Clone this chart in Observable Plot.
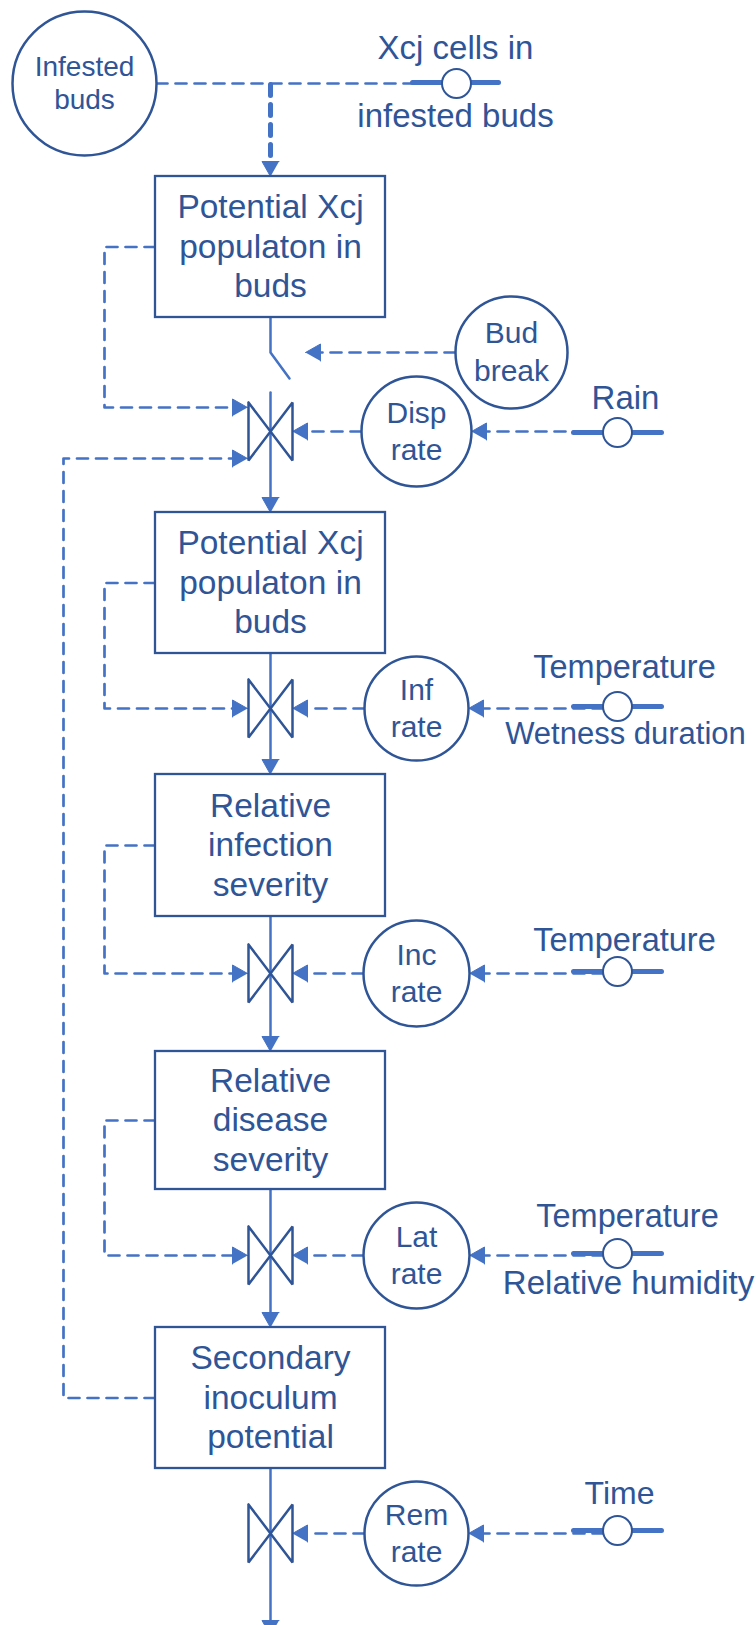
<!DOCTYPE html>
<html>
<head>
<meta charset="utf-8">
<script src="https://cdn.jsdelivr.net/npm/d3@7"></script>
<script src="https://cdn.jsdelivr.net/npm/@observablehq/plot@0.6"></script>
<style>
  html, body { margin: 0; padding: 0; background: #fff; }
  #chart svg { display: block; }
</style>
</head>
<body>
<div id="chart"></div>
<script>
// ---------- content ----------
const stockLabels = [
  "Potential Xcj\npopulaton in\nbuds",
  "Potential Xcj\npopulaton in\nbuds",
  "Relative\ninfection\nseverity",
  "Relative\ndisease\nseverity",
  "Secondary\ninoculum\npotential"
];
const rateLabels = ["Disp\nrate", "Inf\nrate", "Inc\nrate", "Lat\nrate", "Rem\nrate"];
const driverTopLabels = ["Rain", "Temperature", "Temperature", "Temperature", "Time"];
const driverBottomLabels = ["", "Wetness duration", "", "Relative humidity", ""];
const auxLabels = ["Infested\nbuds", "Bud\nbreak"];
const sourceLabels = ["Xcj cells in", "infested buds"];

// ---------- layout (diagram geometry) ----------
const stockTop = [176, 512, 774, 1051, 1327];
const stockBottom = [317, 653, 916, 1189, 1468];
const rateY = [431, 708, 973, 1255, 1533];
const rateR = [55, 52, 53, 53, 52];
const driverY = [432, 706, 971, 1253, 1530];
const driverLabelX = [625, 624, 624, 627, 619];
const driverTopBase = [408, 677, 950, 1226, 1503];
const driverBottomBase = [null, 743, null, 1293, null];
const driverTopSize = [33, 32.5, 32.5, 32.5, 32];
const driverBottomSize = [null, 31, null, 33, null];
const auxX = [84, 511];
const auxY = [83, 352];
const auxR = [72, 56];
const auxFont = [28, 30];
const auxGap = [33.3, 37.5];

const LIGHT = "#4472C4", DARK = "#2F5597";
const W = 756, H = 1625;
const BOX_X1 = 155, BOX_X2 = 385, FLOW_X = 270, RATE_X = 416;
const DRV_X = 617, DRV_HALF = 44, LOOP_X = 104, OUTER_X = 63;
const VALVE_L = 248, VALVE_R = 292, VALVE_HH = 29;
const SRC = {x: 456, y: 82, lineY: 82, x1: 412, x2: 498, cy: 83};
const AL = 15, AHW = 8.5; // arrowhead length / half width

// ---------- derived geometry ----------
const polys = (list) => list.flatMap((pts, id) => pts.map(([x, y]) => ({id, x, y})));
const feedY = stockLabels.map((_, i) => i === 0 ? rateY[0] - 24 : rateY[i]);
const stockCY = stockTop.map((t, i) => (t + stockBottom[i]) / 2);

// dashed information links
const dashed = [];
dashed.push([[auxX[0] + auxR[0], auxY[0]], [SRC.x - 15, auxY[0]]]);
for (let i = 0; i < 4; i++) {
  dashed.push([[BOX_X1, stockCY[i]], [LOOP_X, stockCY[i]], [LOOP_X, feedY[i]], [VALVE_L - AL - 1, feedY[i]]]);
}
dashed.push([[BOX_X1, stockCY[4]], [OUTER_X, stockCY[4]], [OUTER_X, rateY[0] + 27], [VALVE_L - AL - 1, rateY[0] + 27]]);
rateY.forEach((y, i) => {
  dashed.push([[RATE_X - rateR[i], y], [VALVE_R + AL, y]]);
  dashed.push([[DRV_X - 14, y], [RATE_X + rateR[i] + AL, y]]);
});
dashed.push([[auxX[1] - auxR[1], auxY[1]], [305 + AL, auxY[1]]]);

const thickDashed = [[[FLOW_X, SRC.cy + 1], [FLOW_X, stockTop[0] - AL]]];

// solid flows
const flows = [
  [[FLOW_X, stockBottom[0]], [FLOW_X, auxY[1]], [289, 378]],
  [[FLOW_X, rateY[0] - 39], [FLOW_X, stockTop[1] - AL]]
];
for (let i = 1; i < 4; i++) flows.push([[FLOW_X, stockBottom[i]], [FLOW_X, stockTop[i + 1] - AL]]);
flows.push([[FLOW_X, stockBottom[4]], [FLOW_X, H + 10 - AL]]);

// arrowheads
const tri = (tx, ty, dir) =>
  dir === "left" ? [[tx, ty], [tx + AL, ty - AHW], [tx + AL, ty + AHW]] :
  dir === "right" ? [[tx, ty], [tx - AL, ty - AHW], [tx - AL, ty + AHW]] :
  [[tx, ty], [tx - AHW, ty - AL], [tx + AHW, ty - AL]];
const heads = [];
heads.push(tri(FLOW_X, stockTop[0], "down"));
for (let i = 1; i < 5; i++) heads.push(tri(FLOW_X, stockTop[i], "down"));
heads.push(tri(FLOW_X, H + 10, "down"));
heads.push(tri(305, auxY[1], "left"));
rateY.forEach((y, i) => {
  heads.push(tri(VALVE_R, y, "left"));
  heads.push(tri(RATE_X + rateR[i], y, "left"));
});
for (let i = 0; i < 4; i++) heads.push(tri(VALVE_L - 1, feedY[i], "right"));
heads.push(tri(VALVE_L - 1, rateY[0] + 27, "right"));

// valves (bow ties)
const valves = rateY.map(y => [
  [VALVE_L, y - VALVE_HH], [VALVE_L, y + VALVE_HH], [VALVE_R, y - VALVE_HH],
  [VALVE_R, y + VALVE_HH], [VALVE_L, y - VALVE_HH]
]);

// stocks
const boxes = stockTop.map((t, i) => ({x1: BOX_X1, x2: BOX_X2, y1: t, y2: stockBottom[i]}));

// circles
const circles = [
  ...auxX.map((x, i) => ({x, y: auxY[i], r: auxR[i]})),
  ...rateY.map((y, i) => ({x: RATE_X, y, r: rateR[i]}))
];

// driver bars & small circles
const bars = [[[SRC.x1, SRC.lineY], [SRC.x2, SRC.lineY]], ...driverY.map(y => [[DRV_X - DRV_HALF, y], [DRV_X + DRV_HALF, y]])];
const smallCircles = [{x: SRC.x, y: SRC.cy}, ...driverY.map(y => ({x: DRV_X, y}))];

// texts (one record per line)
const texts = [];
function addBlock(label, x, cy, fs, gap) {
  const lines = label.split("\n"), n = lines.length;
  lines.forEach((t, i) => texts.push({t, x, base: cy - (n - 1) * gap / 2 + 0.32 * fs + i * gap, fs}));
}
stockLabels.forEach((s, i) => addBlock(s, FLOW_X, stockCY[i], 33.5, 39.5));
rateLabels.forEach((s, i) => addBlock(s, RATE_X, rateY[i], 30, 37));
auxLabels.forEach((s, i) => addBlock(s, auxX[i], auxY[i], auxFont[i], auxGap[i]));
texts.push({t: sourceLabels[0], x: 455, base: 58, fs: 33});
texts.push({t: sourceLabels[1], x: 455, base: 126, fs: 33});
driverTopLabels.forEach((s, i) => texts.push({t: s, x: driverLabelX[i], base: driverTopBase[i], fs: driverTopSize[i]}));
driverBottomLabels.forEach((s, i) => { if (s) texts.push({t: s, x: driverLabelX[i] + 1, base: driverBottomBase[i], fs: driverBottomSize[i]}); });

const FONT = "'Liberation Sans', Arial, Helvetica, sans-serif";

const chart = Plot.plot({
  width: W,
  height: H,
  margin: 0,
  x: {domain: [0, W], range: [0, W], axis: null},
  y: {domain: [0, H], range: [0, H], axis: null},
  r: {type: "identity"},
  style: {background: "#fff", fontFamily: FONT},
  marks: [
    Plot.line(polys(dashed), {x: "x", y: "y", z: "id", stroke: LIGHT, strokeWidth: 2.7, strokeDasharray: "11,8", curve: "linear"}),
    Plot.line(polys(thickDashed), {x: "x", y: "y", z: "id", stroke: LIGHT, strokeWidth: 5, strokeDasharray: "11,9"}),
    Plot.line(polys(flows), {x: "x", y: "y", z: "id", stroke: LIGHT, strokeWidth: 2.5}),
    Plot.line(polys(heads), {x: "x", y: "y", z: "id", fill: LIGHT, stroke: LIGHT, strokeWidth: 1, strokeLinejoin: "miter"}),
    Plot.line(polys(valves), {x: "x", y: "y", z: "id", stroke: DARK, strokeWidth: 2.5, strokeLinejoin: "miter"}),
    Plot.rect(boxes, {x1: "x1", x2: "x2", y1: "y1", y2: "y2", fill: "#fff", stroke: DARK, strokeWidth: 2.3}),
    Plot.dot(circles, {x: "x", y: "y", r: "r", fill: "#fff", stroke: DARK, strokeWidth: 2.5}),
    Plot.line(polys(bars), {x: "x", y: "y", z: "id", stroke: LIGHT, strokeWidth: 5}),
    Plot.dot(smallCircles, {x: "x", y: "y", r: 14.5, fill: "#fff", stroke: DARK, strokeWidth: 2}),
    Plot.text(texts, {x: "x", y: d => d.base - 0.32 * d.fs, text: "t", fontSize: "fs", fill: DARK, fontFamily: FONT, textAnchor: "middle", lineAnchor: "middle"})
  ]
});
document.getElementById("chart").appendChild(chart);
</script>
</body>
</html>
